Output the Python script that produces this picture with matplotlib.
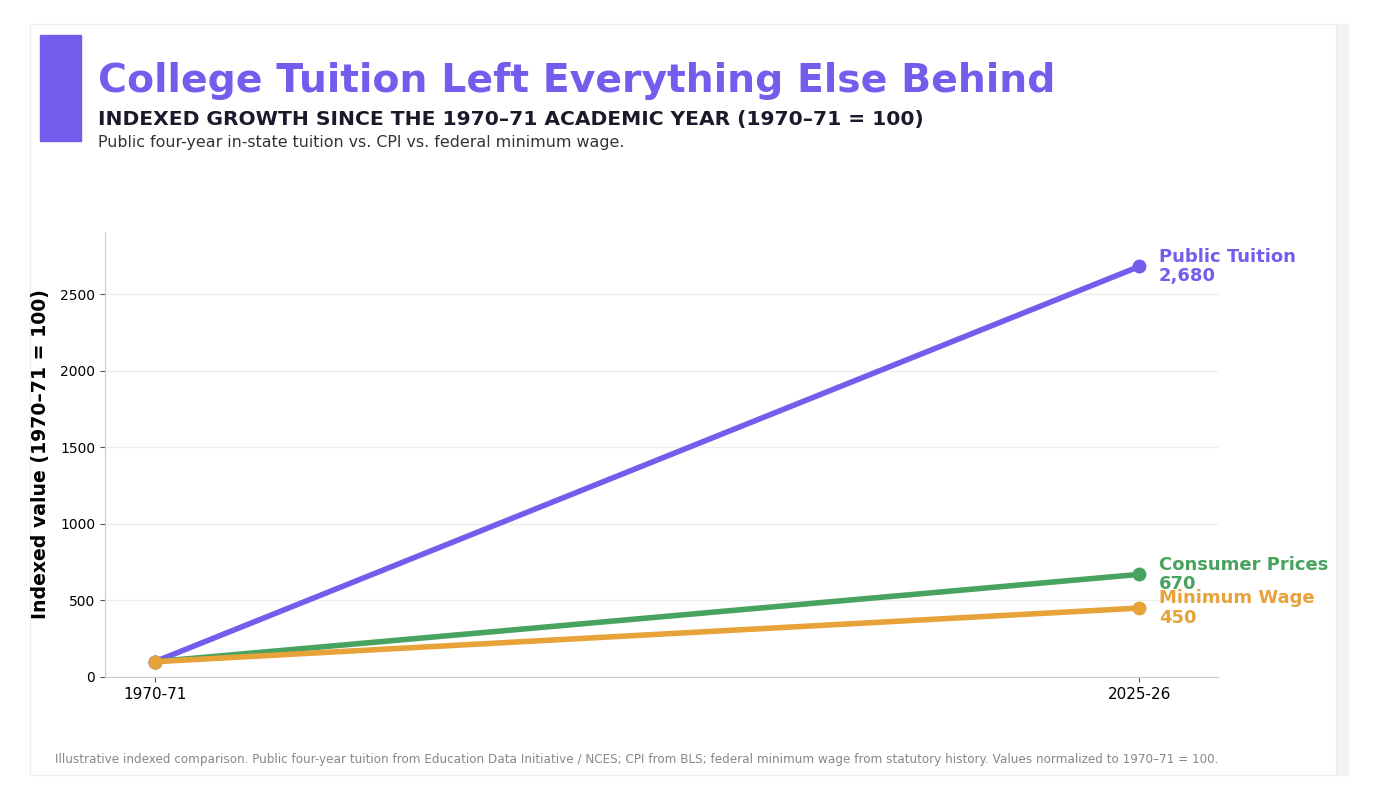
import matplotlib.pyplot as plt
from matplotlib.patches import Rectangle

# data
years = ["1970-71", "2025-26"]
tuition = [100, 2680]
cpi = [100, 670]
min_wage = [100, 450]
series_names = ["Public Tuition", "Consumer Prices", "Minimum Wage"]
colors = ["#745CEC", "#47A35F", "#E8A23A"]

fig = plt.figure(figsize=(13.78, 7.92), dpi=100)
W, H = 1378, 792

# card background + shadow
fig.patches.append(Rectangle((1336 / W, 1 - 775 / H), 12 / W, 751 / H,
                             transform=fig.transFigure, color="#F3F2F4", zorder=0))
fig.patches.append(Rectangle((30 / W, 1 - 775 / H), 1306 / W, 751 / H,
                             transform=fig.transFigure, facecolor="white",
                             edgecolor="#EEEEEE", lw=1, zorder=0))
# accent bar
fig.patches.append(Rectangle((40 / W, 1 - 141 / H), 41 / W, 106 / H,
                             transform=fig.transFigure, color=colors[0], zorder=1))

fig.text(98 / W, 1 - 81 / H, "College Tuition Left Everything Else Behind",
         fontsize=28.4, fontweight="bold", color=colors[0], va="center")
fig.text(98 / W, 1 - 120 / H, "INDEXED GROWTH SINCE THE 1970\u201371 ACADEMIC YEAR (1970\u201371 = 100)",
         fontsize=14.6, fontweight="bold", color="#1A1A2A", va="center")
fig.text(98 / W, 1 - 143 / H, "Public four-year in-state tuition vs. CPI vs. federal minimum wage.",
         fontsize=11.4, color="#333333", va="center")

ax = fig.add_axes([105 / W, 1 - 677 / H, (1218 - 105) / W, (677 - 232) / H])
ax.set_zorder(5)
ax.patch.set_alpha(0)
x = range(len(years))
for vals, name, c in zip([tuition, cpi, min_wage], series_names, colors):
    ax.plot(x, vals, color=c, lw=4, marker="o", markersize=9, solid_capstyle="round", zorder=3,
            clip_on=False)
    ax.text(x[-1] + 0.02, vals[-1], f"{name}\n{vals[-1]:,}", color=c,
            fontsize=13, fontweight="bold", va="center", ha="left", linespacing=1.1)

ax.set_xlim(-0.0508, 1.08)
ax.set_ylim(0, 2905)
ax.set_xticks(list(x))
ax.set_xticklabels(years, fontsize=11)
ax.set_yticks([0, 500, 1000, 1500, 2000, 2500])
ax.tick_params(axis="y", labelsize=10, color="#555555")
ax.tick_params(axis="x", color="#555555")
ax.set_ylabel("Indexed value (1970\u201371 = 100)", fontsize=13.6, fontweight="bold", labelpad=7)
ax.grid(axis="y", color="#EEEEEE", lw=1)
ax.set_axisbelow(True)
for s in ["top", "right"]:
    ax.spines[s].set_visible(False)
for s in ["left", "bottom"]:
    ax.spines[s].set_color("#CCCCCC")

fig.text(55 / W, 1 - 759 / H,
         "Illustrative indexed comparison. Public four-year tuition from Education Data Initiative / NCES; "
         "CPI from BLS; federal minimum wage from statutory history. Values normalized to 1970\u201371 = 100.",
         fontsize=8.65, color="#888888", va="center")

fig.savefig("out.png", dpi=100)
